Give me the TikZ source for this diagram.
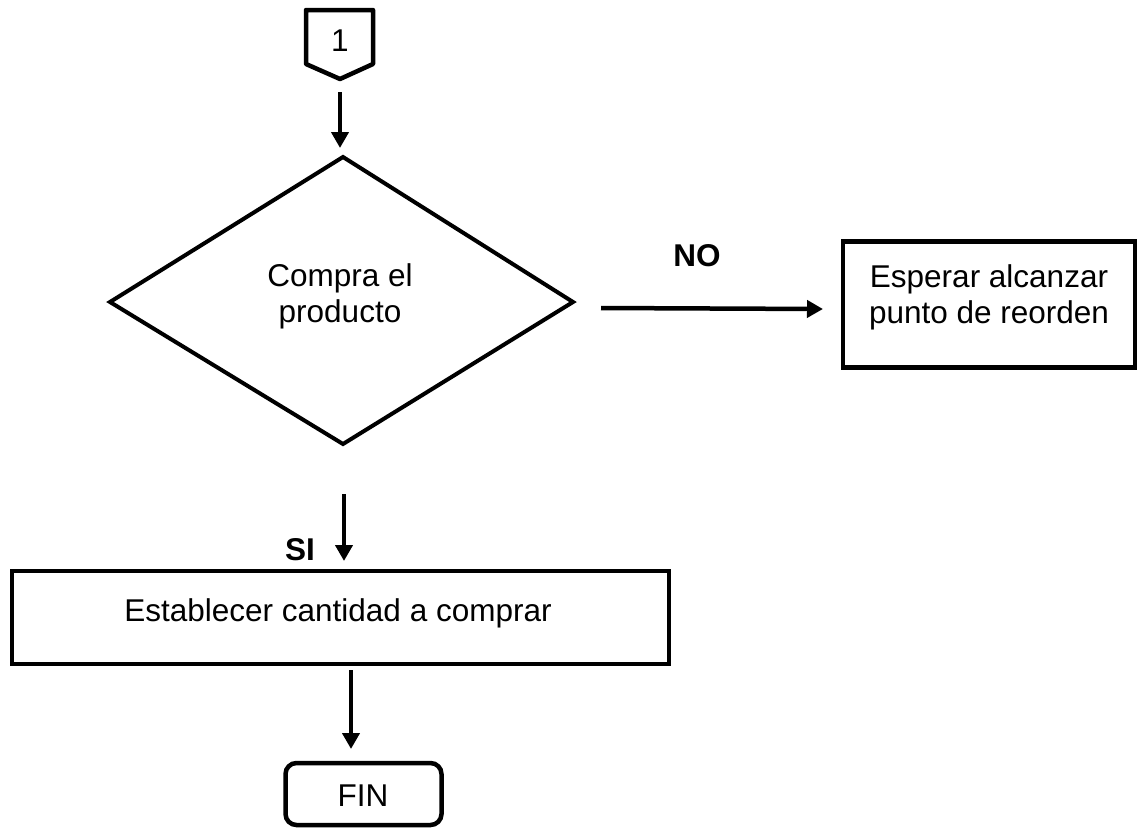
\documentclass[tikz,border=0pt]{standalone}
\usepackage{fontspec}
\setmainfont{Liberation Sans}
\usetikzlibrary{arrows.meta}
\begin{document}
\begin{tikzpicture}[x=1pt,y=-1pt,
  lbl/.style={font=\fontsize{31.5}{36}\selectfont, align=center, inner sep=0pt, anchor=base},
  boldlbl/.style={font=\fontsize{31.5}{36}\selectfont\bfseries, inner sep=0pt},
  box/.style={draw, line width=4.5pt},
  flow/.style={line width=4.5pt, -{Triangle[length=16pt,width=17pt]}}]
\useasboundingbox (0,0) rectangle (1145,831);
% off-page connector
\draw[line width=4.5pt, line join=round] (306,10) -- (373,10) -- (373,64) -- (340,79) -- (306,64) -- cycle;
\node[lbl] (one) at (340,51) {1};
\coordinate (c1) at (340,92);
\coordinate (d1) at (340,148);
% decision
\draw[line width=4pt, line join=miter] (343,157) -- (573,302) -- (343,444) -- (110,302) -- cycle;
\node[lbl] (dec) at (340,322) {Compra el\\producto};
% right box
\node[box, minimum width=292pt, minimum height=126pt] (wait) at (989,304.5) {};
\node[lbl] at (989,323) {Esperar alcanzar\\punto de reorden};
% lower box
\node[box, minimum width=657pt, minimum height=93pt] (est) at (340.5,617.5) {};
\node[lbl] at (338,621) {Establecer cantidad a comprar};
% end terminal
\node[draw, line width=4.5pt, rounded corners=11pt, minimum width=156pt, minimum height=62pt] (fin) at (363.5,794) {};
\node[lbl] at (363,806) {FIN};
% connectors
\coordinate (n0) at (601,308);
\coordinate (n1) at (823,309);
\coordinate (s0) at (344,494);
\coordinate (s1) at (344,561);
\coordinate (f0) at (351,670);
\coordinate (f1) at (351,749);
\draw[flow] (c1) -- (d1);
\draw[flow] (n0) -- (n1);
\draw[flow] (s0) -- (s1);
\draw[flow] (f0) -- (f1);
\node[boldlbl] (no) at (697,256) {NO};
\node[boldlbl] (si) at (300,550) {SI};
\end{tikzpicture}
\end{document}
